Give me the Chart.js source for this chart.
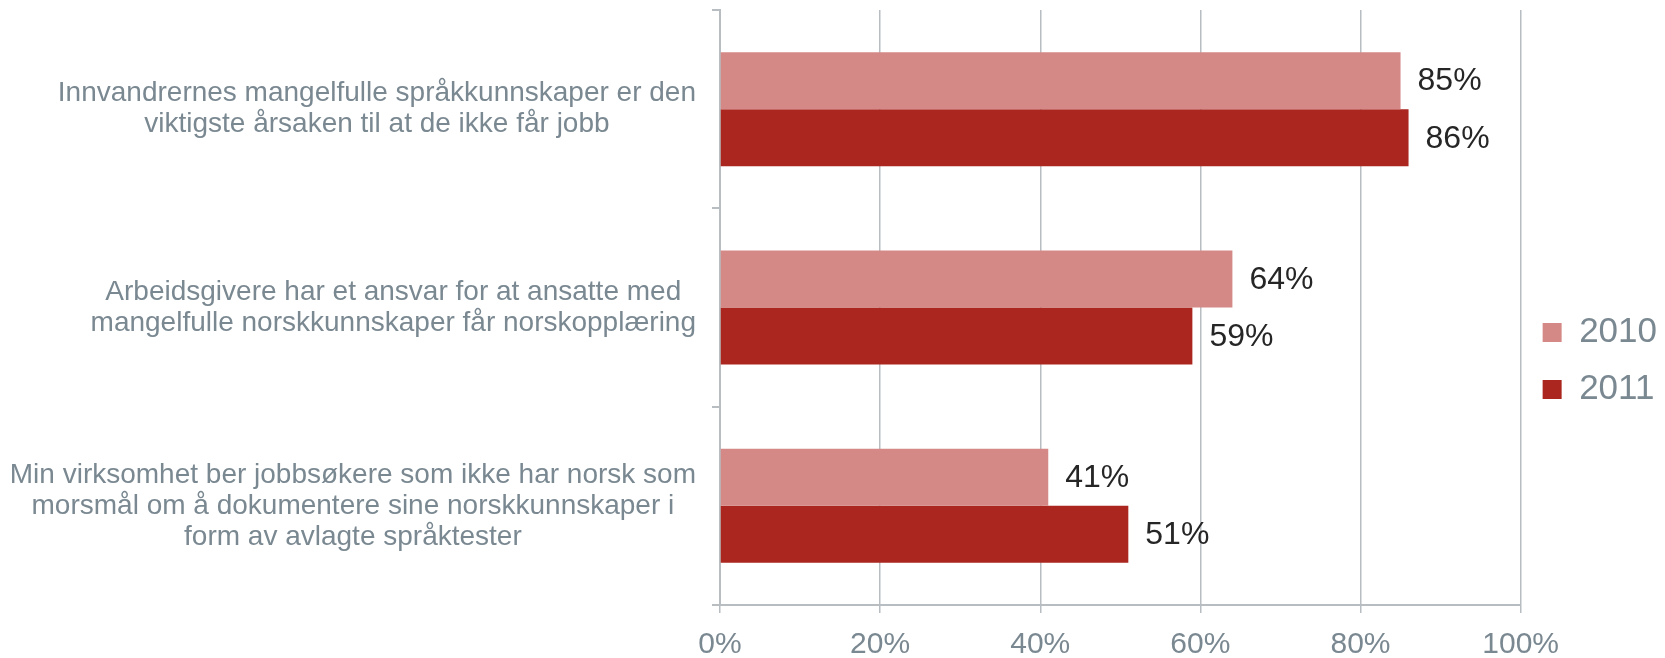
<!DOCTYPE html>
<html>
<head>
<meta charset="utf-8">
<script src="https://cdn.jsdelivr.net/npm/chart.js@4/dist/chart.umd.min.js"></script>
<style>
  html, body { margin: 0; padding: 0; background: #ffffff; }
  canvas { display: block; }
</style>
</head>
<body>
<canvas id="chart" width="1665" height="658"></canvas>
<script>
// statements (wrapped as in the source)
const categories = [
    ['Innvandrernes mangelfulle språkkunnskaper er den', 'viktigste årsaken til at de ikke får jobb'],
    ['Arbeidsgivere har et ansvar for at ansatte med', 'mangelfulle norskkunnskaper får norskopplæring'],
    ['Min virksomhet ber jobbsøkere som ikke har norsk som', 'morsmål om å dokumentere sine norskkunnskaper i', 'form av avlagte språktester']
];
const seriesNames = ['2010', '2011'];
const values2010 = [85, 64, 41];
const values2011 = [86, 59, 51];
const xTicks = [0, 20, 40, 60, 80, 100];

const GRID = '#b8bdc1';
const LABEL_GRAY = '#7a8891';
const FONT = "'Liberation Sans', Arial, sans-serif";

Chart.defaults.font.family = FONT;

/**
 * Value labels to the right of each bar.
 */
const valueLabels = {
    id: 'valueLabels',
    afterDatasetsDraw(chart) {
        const ctx = chart.ctx;
        ctx.save();
        ctx.font = '32px ' + FONT;
        ctx.fillStyle = '#262626';
        ctx.textAlign = 'left';
        ctx.textBaseline = 'middle';
        chart.data.datasets.forEach((ds, i) => {
            chart.getDatasetMeta(i).data.forEach((bar, j) => {
                ctx.fillText(ds.data[j] + '%', bar.x + 17, bar.y + 1);
            });
        });
        ctx.restore();
    }
};

/**
 * Category labels: each block centred on its own widest line,
 * right edge just left of the axis.
 */
const categoryLabels = {
    id: 'categoryLabels',
    afterDraw(chart) {
        const ctx = chart.ctx;
        const yScale = chart.scales.y;
        const right = chart.chartArea.left - 24;
        const lineH = 31;
        ctx.save();
        ctx.font = '28px ' + FONT;
        ctx.fillStyle = LABEL_GRAY;
        ctx.textAlign = 'center';
        ctx.textBaseline = 'middle';
        chart.data.labels.forEach((lines, i) => {
            const widest = Math.max(...lines.map(l => ctx.measureText(l).width));
            const cx = right - widest / 2;
            const cy = yScale.getPixelForValue(i);
            const y0 = cy - (lines.length - 1) * lineH / 2;
            lines.forEach((l, k) => ctx.fillText(l, cx, y0 + k * lineH));
        });
        ctx.restore();
    }
};

new Chart(document.getElementById('chart'), {
    type: 'bar',
    data: {
        labels: categories,
        datasets: [{
            label: seriesNames[0],
            data: values2010,
            backgroundColor: '#d48986',
            borderWidth: 0,
            barPercentage: 1,
            categoryPercentage: 0.575,
        }, {
            label: seriesNames[1],
            data: values2011,
            backgroundColor: '#aa261f',
            borderWidth: 0,
            barPercentage: 1,
            categoryPercentage: 0.575,
        }],
    },
    options: {
        indexAxis: 'y',
        responsive: false,
        animation: false,
        layout: { padding: { top: 10, right: -2, bottom: 0, left: 0 } },
        scales: {
            x: {
                type: 'linear',
                min: 0,
                max: 100,
                afterBuildTicks: (scale) => { scale.ticks = xTicks.map(v => ({ value: v })); },
                afterFit: (scale) => { scale.height = 53; },
                grid: { color: GRID, lineWidth: 1.5, drawTicks: true, tickLength: 8 },
                border: { display: true, color: GRID, width: 2 },
                ticks: {
                    color: LABEL_GRAY,
                    font: { size: 30 },
                    padding: 14,
                    callback: (v) => v + '%',
                },
            },
            y: {
                type: 'category',
                afterFit: (scale) => { scale.width = 720; },
                grid: { display: true, drawOnChartArea: false, drawTicks: true, tickLength: 8, color: GRID, lineWidth: 2 },
                border: { display: true, color: GRID, width: 2 },
                ticks: { display: false },
            },
        },
        plugins: {
            tooltip: { enabled: false },
            legend: {
                position: 'right',
                align: 'center',
                title: { display: true, text: '', font: { size: 45, lineHeight: 1.2 } },
                labels: {
                    boxWidth: 19,
                    boxHeight: 19,
                    padding: 22,
                    color: LABEL_GRAY,
                    font: { size: 35 },
                },
            },
        },
    },
    plugins: [valueLabels, categoryLabels],
});
</script>
</body>
</html>
